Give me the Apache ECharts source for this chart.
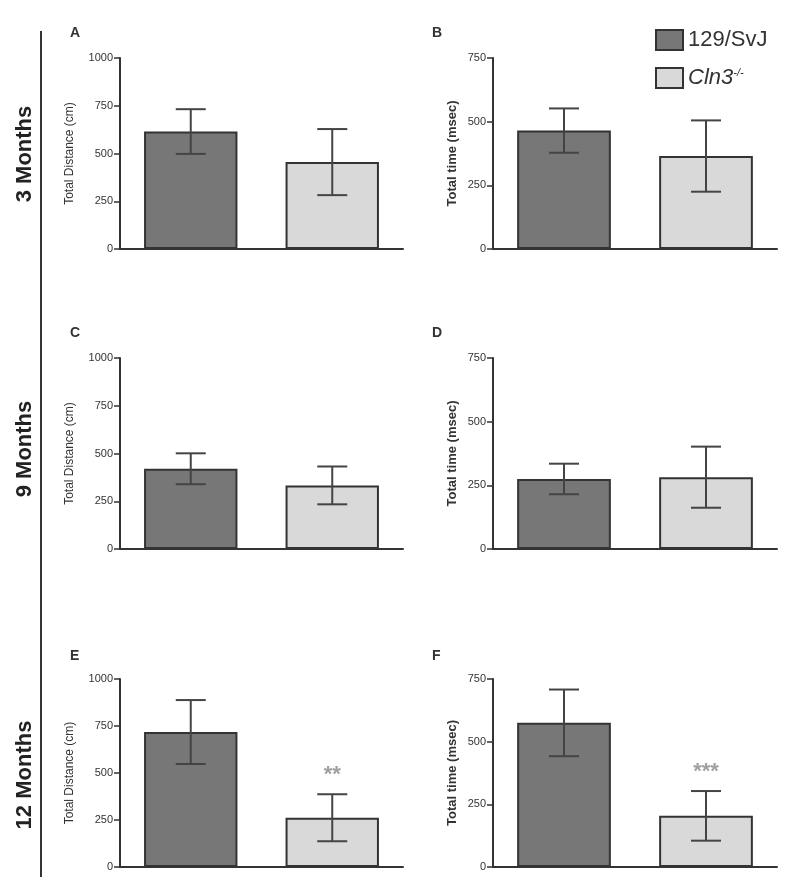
<!DOCTYPE html>
<html>
<head>
<meta charset="utf-8">
<script src="https://cdn.jsdelivr.net/npm/echarts@6/dist/echarts.min.js"></script>
<style>
html,body{margin:0;padding:0;background:#fff;}
#chart{width:800px;height:888px;}
</style>
</head>
<body>
<div id="chart"></div>
<script>
// ---- data ----
const categories = ['129/SvJ', 'Cln3-/-'];
const panelLetters = ['A', 'B', 'C', 'D', 'E', 'F'];
const wtMeans = [615, 465, 420, 275, 718, 575];
const wtSem   = [117,  87,  81,  60, 170, 133];
const koMeans = [455, 365, 333, 282, 262, 204];
const koSem   = [173, 140,  99, 120, 125,  99];
const yMaxes  = [1000, 750, 1000, 750, 1000, 750];
const yInterval = 250;
const yTitles = ['Total Distance (cm)', 'Total time (msec)', 'Total Distance (cm)', 'Total time (msec)', 'Total Distance (cm)', 'Total time (msec)'];
const rowLabels = ['3 Months', '9 Months', '12 Months'];
const sigMarks = ['', '', '', '', '**', '***'];

// ---- layout ----
const FONT = 'Liberation Sans, Arial, sans-serif';
const colLeft = [120, 493];
const colWidth = [283, 284];
const rowTop = [58, 358, 679];
const rowHeight = [191, 191, 188];
const darkFill = '#777777';
const lightFill = '#d9d9d9';
const edge = '#333333';

const grids = [], xAxes = [], yAxes = [], series = [], graphics = [];
for (let i = 0; i < 6; i++) {
  const r = Math.floor(i / 2), c = i % 2;
  grids.push({ left: colLeft[c], top: rowTop[r], width: colWidth[c], height: rowHeight[r] });
  xAxes.push({
    gridIndex: i, type: 'category', data: categories,
    axisLine: { lineStyle: { color: edge, width: 2 } },
    axisTick: { show: false }, axisLabel: { show: false }
  });
  yAxes.push({
    gridIndex: i, type: 'value', min: 0, max: yMaxes[i], interval: yInterval,
    name: yTitles[i], nameLocation: 'middle', nameGap: c === 0 ? 44 : 34,
    nameTextStyle: { fontFamily: FONT, fontSize: c === 0 ? 12 : 13, fontWeight: c === 0 ? 'normal' : 'bold', color: '#333' },
    axisLine: { show: true, lineStyle: { color: edge, width: 2 } },
    axisTick: { show: true, length: 6, lineStyle: { color: edge, width: 1.5 } },
    axisLabel: { fontFamily: FONT, fontSize: 11, color: '#333', margin: 7, formatter: function (v) { return String(v); } },
    splitLine: { show: false }
  });
  series.push({
    name: categories[0], type: 'bar', xAxisIndex: i, yAxisIndex: i, stack: 's' + i,
    barWidth: '66%', data: [wtMeans[i], null],
    itemStyle: { color: darkFill, borderColor: edge, borderWidth: 2 }
  });
  series.push({
    name: categories[1], type: 'bar', xAxisIndex: i, yAxisIndex: i, stack: 's' + i,
    barWidth: '66%', data: [null, koMeans[i]],
    itemStyle: { color: lightFill, borderColor: edge, borderWidth: 2 }
  });
  series.push({
    type: 'custom', xAxisIndex: i, yAxisIndex: i, z: 10, silent: true,
    data: [[0, wtMeans[i] - wtSem[i], wtMeans[i] + wtSem[i]], [1, koMeans[i] - koSem[i], koMeans[i] + koSem[i]]],
    encode: { x: 0, y: [1, 2] },
    renderItem: function (params, api) {
      const x = api.value(0);
      const lo = api.coord([x, api.value(1)]);
      const hi = api.coord([x, api.value(2)]);
      const hw = 15;
      const st = { stroke: '#444', lineWidth: 2 };
      return { type: 'group', children: [
        { type: 'line', shape: { x1: lo[0], y1: lo[1], x2: hi[0], y2: hi[1] }, style: st },
        { type: 'line', shape: { x1: hi[0] - hw, y1: hi[1], x2: hi[0] + hw, y2: hi[1] }, style: st },
        { type: 'line', shape: { x1: lo[0] - hw, y1: lo[1], x2: lo[0] + hw, y2: lo[1] }, style: st }
      ]};
    }
  });
  if (sigMarks[i]) {
    series.push({
      type: 'scatter', xAxisIndex: i, yAxisIndex: i, symbolSize: 0, silent: true,
      data: [[1, koMeans[i] + koSem[i]]],
      label: { show: true, position: 'top', distance: 8, formatter: sigMarks[i],
        fontFamily: FONT, fontSize: 22, fontWeight: 'bold', color: '#888' }
    });
  }
  // panel letter
  graphics.push({ type: 'text', left: c === 0 ? 70 : 432, top: rowTop[r] - (r === 2 ? 30 : 32),
    style: { text: panelLetters[i], font: 'bold 14px ' + FONT, fill: '#333' } });
}
// row labels
const rowCenters = [154, 449, 775];
rowLabels.forEach(function (t, k) {
  graphics.push({ type: 'text', x: 25, y: rowCenters[k], rotation: Math.PI / 2,
    style: { text: t, font: 'bold 22px ' + FONT, fill: '#222', align: 'center', verticalAlign: 'middle' } });
});
graphics.push({ type: 'line', shape: { x1: 41, y1: 31, x2: 41, y2: 877 }, style: { stroke: '#333', lineWidth: 2 } });

const option = {
  animation: false,
  backgroundColor: '#fff',
  grid: grids, xAxis: xAxes, yAxis: yAxes, series: series, graphic: graphics,
  legend: {
    orient: 'vertical', left: 655, top: 29, padding: 0, itemWidth: 27, itemHeight: 20, itemGap: 16,
    data: categories, icon: 'rect',
    itemStyle: { borderColor: edge, borderWidth: 2 },
    formatter: function (n) { return n === categories[0] ? n : '{i|Cln3}{s|-/-}'; },
    textStyle: { fontFamily: FONT, fontSize: 22, color: '#333',
      rich: { i: { fontFamily: FONT, fontSize: 22, fontStyle: 'italic', color: '#333' },
              s: { fontFamily: FONT, fontSize: 11, fontStyle: 'italic', color: '#333', verticalAlign: 'top', padding: [0, 0, 10, 0] } } }
  }
};
echarts.init(document.getElementById('chart')).setOption(option);
</script>
</body>
</html>
